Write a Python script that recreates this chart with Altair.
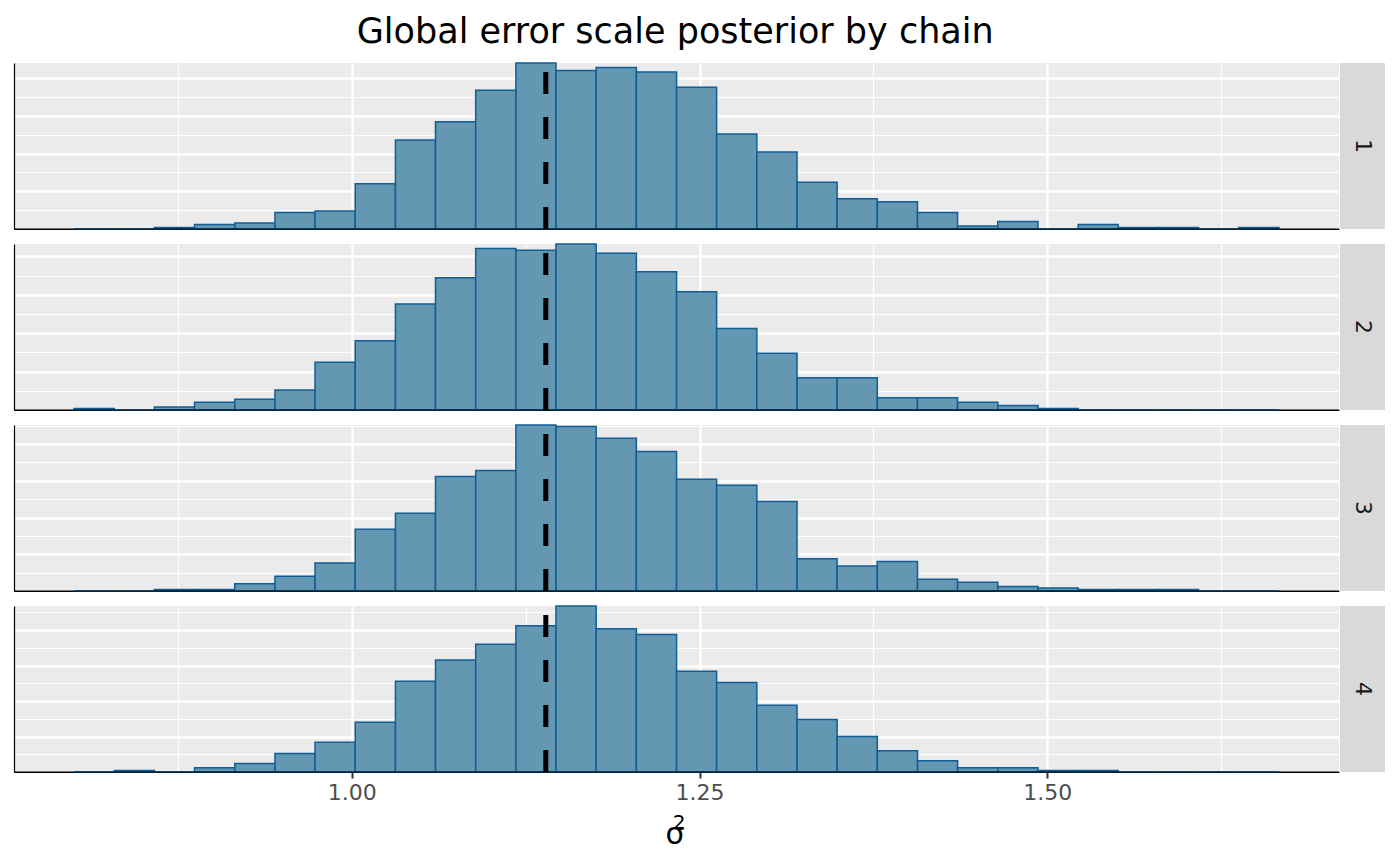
import altair as alt
import pandas as pd

TITLE = "Global error scale posterior by chain"
CHAINS = ["1", "2", "3", "4"]

# histogram bin edges (30 bins) on sigma^2
BIN_EDGES = [0.8004, 0.8293, 0.8581, 0.8870, 0.9159, 0.9448, 0.9736, 1.0025,
             1.0314, 1.0602, 1.0891, 1.1180, 1.1468, 1.1757, 1.2046, 1.2335,
             1.2623, 1.2912, 1.3201, 1.3489, 1.3778, 1.4067, 1.4355, 1.4644,
             1.4933, 1.5222, 1.5510, 1.5799, 1.6088, 1.6376, 1.6665]

COUNTS_1 = [0, 0, 1, 3, 4, 11, 12, 30, 59, 71, 92, 110, 105, 107, 104, 94,
            63, 51, 31, 20, 18, 11, 2, 5, 0, 3, 1, 1, 0, 1]
COUNTS_2 = [1, 0, 2, 5, 7, 13, 31, 45, 69, 86, 105, 104, 108, 102, 90, 77,
            53, 37, 21, 21, 8, 8, 5, 3, 1, 0, 0, 0, 0, 0]
COUNTS_3 = [0, 0, 1, 1, 5, 10, 19, 42, 53, 78, 82, 113, 112, 104, 95, 76,
            72, 61, 22, 17, 20, 8, 6, 3, 2, 1, 1, 1, 0, 0]
COUNTS_4 = [0, 1, 0, 3, 6, 13, 21, 35, 64, 79, 90, 103, 117, 101, 97, 71,
            63, 47, 37, 25, 15, 8, 3, 3, 1, 1, 0, 0, 0, 0]
COUNTS = [COUNTS_1, COUNTS_2, COUNTS_3, COUNTS_4]

VLINE = [1.1395]
X_DOMAIN = [0.7572, 1.7097]
X_BREAKS = [0.875, 1.0, 1.125, 1.25, 1.375, 1.5, 1.625]

W, H = 1325, 166
STRIP_W = 45
FONT = "DejaVu Sans"
FILL = "#6497B1"
EDGE = "#0F5E98"
BG = "#EBEBEB"

major_x = "round(datum.value*8) % 2 === 0"
major_y = "datum.value % 25 === 0"


def panel(chain, counts, last):
    rows = [{"chain": chain, "x0": BIN_EDGES[i], "x1": BIN_EDGES[i + 1], "count": c}
            for i, c in enumerate(counts)]
    df = pd.DataFrame(rows)
    ymax = max(counts)
    ygrid = [12.5 * k for k in range(1, 20) if 12.5 * k <= ymax]

    xaxis_kw = dict(
        values=X_BREAKS, title=None, grid=True, gridColor="white",
        gridWidth={"condition": {"test": major_x, "value": 2.4}, "value": 1.2},
        domain=True, domainColor="black", domainWidth=1.2, offset=0, minExtent=0,
    )
    if last:
        xaxis_kw.update(
            labels=True, ticks=True,
            labelExpr="round(datum.value*8) % 2 === 0 ? format(datum.value, '.2f') : ''",
            labelFontSize=22, labelColor="#4D4D4D", labelFont=FONT, labelPadding=4,
            tickColor="#333333", tickSize=6, tickWidth=2,
            tickOpacity={"condition": {"test": major_x, "value": 1}, "value": 0},
        )
    else:
        xaxis_kw.update(labels=False, ticks=False)
    xscale = alt.Scale(domain=X_DOMAIN, nice=False, zero=False)

    yaxis = alt.Axis(
        values=ygrid, title=None, labels=False, ticks=False, grid=True,
        gridColor="white",
        gridWidth={"condition": {"test": major_y, "value": 2.4}, "value": 1.2},
        domain=True, domainColor="black", domainWidth=1.2, offset=0, minExtent=0,
    )

    bars = alt.Chart(df).mark_rect(fill=FILL, stroke=EDGE, strokeWidth=1.5).encode(
        x=alt.X("x0:Q", scale=xscale, axis=alt.Axis(**xaxis_kw)),
        x2="x1:Q",
        y=alt.Y("count:Q", scale=alt.Scale(domain=[0, ymax], nice=False, zero=True),
                axis=yaxis),
        y2=alt.datum(0),
    )
    vline = alt.Chart(pd.DataFrame({"x0": VLINE})).mark_rule(
        color="black", strokeWidth=5, strokeDash=[22, 23]
    ).encode(x=alt.X("x0:Q", scale=xscale, axis=alt.Axis(**xaxis_kw)),
             y=alt.value(H), y2=alt.value(0))
    base = alt.Chart(pd.DataFrame({"a": [0]})).mark_rule(
        color="black", strokeWidth=1.2
    ).encode(x=alt.value(0), x2=alt.value(W), y=alt.value(H))
    layers = [bars, vline, base]
    if last:
        sig = alt.Chart(pd.DataFrame({"t": ["σ"]})).mark_text(
            fontSize=30, font=FONT, color="black", baseline="alphabetic", align="center"
        ).encode(text="t:N", x=alt.value(661), y=alt.value(238))
        sup = alt.Chart(pd.DataFrame({"t": ["2"]})).mark_text(
            fontSize=20, font=FONT, color="black", baseline="alphabetic", align="center"
        ).encode(text="t:N", x=alt.value(665), y=alt.value(223))
        layers += [sig, sup]
    p = alt.layer(*layers).properties(
        width=W, height=H, view=alt.ViewBackground(fill=BG, strokeWidth=0)
    )

    strip_df = pd.DataFrame({"chain": [chain]})
    strip = alt.layer(
        alt.Chart(strip_df).mark_rect(color="#D9D9D9").encode(
            x=alt.value(0), x2=alt.value(STRIP_W), y=alt.value(0), y2=alt.value(H)),
        alt.Chart(strip_df).mark_text(
            angle=90, fontSize=22, font=FONT, color="#1A1A1A", align="center", baseline="middle"
        ).encode(text="chain:N", x=alt.value(STRIP_W / 2), y=alt.value(H / 2)),
    ).properties(width=STRIP_W, height=H, view=alt.ViewBackground(fill="#D9D9D9", strokeWidth=0))
    return alt.hconcat(p, strip, spacing=0)


rows = [panel(c, cnt, i == 3) for i, (c, cnt) in enumerate(zip(CHAINS, COUNTS))]

chart = alt.vconcat(*rows, spacing=9).properties(
    title=alt.TitleParams(TITLE, fontSize=35, font=FONT, color="black",
                          fontWeight="normal", anchor="middle", dx=-24, offset=11),
    padding={"left": 5, "top": 6, "right": 0, "bottom": 0},
).configure(font=FONT).configure_view(fill=BG, strokeWidth=0)

chart.save("out.html", embed_options={"renderer": "svg", "actions": False})
